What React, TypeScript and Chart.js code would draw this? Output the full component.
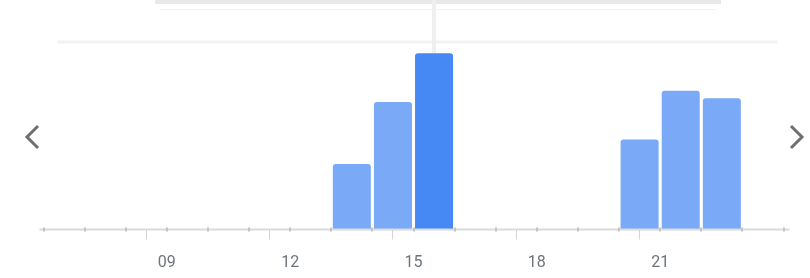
import React, { useEffect, useRef } from "react";
import { Chart, registerables } from "chart.js";

Chart.register(...registerables);

const hours = [6, 7, 8, 9, 10, 11, 12, 13, 14, 15, 16, 17, 18, 19, 20, 21, 22, 23];
const busyness = [0, 0, 0, 0, 0, 0, 0, 35, 68, 94, 0, 0, 0, 0, 48, 74, 70, 0];
const currentHour = 15;
const nowValue = 15.5;
const labelHours = [9, 12, 15, 18, 21];

const normalColor = "#7aa9f7";
const highlightColor = "#4688f4";

const decorPlugin = {
  id: "decor",
  beforeDatasetsDraw(chart: any) {
    const { ctx, chartArea, scales } = chart;
    const x = scales.x;
    const y = scales.y;
    ctx.save();
    const gy = y.getPixelForValue(100);
    ctx.fillStyle = "#f2f2f2";
    ctx.fillRect(chartArea.left + 14, gy - 1.5, chartArea.right - chartArea.left - 20, 3);
    const nx = x.getPixelForValue(nowValue);
    const idx = hours.indexOf(currentHour);
    const topY = y.getPixelForValue(busyness[idx]);
    ctx.fillStyle = "#efefef";
    ctx.fillRect(nx - 2, 0, 4, topY);
    ctx.restore();
  },
  afterDraw(chart: any) {
    const { ctx, chartArea, scales } = chart;
    const x = scales.x;
    ctx.save();
    ctx.fillStyle = "#dadada";
    ctx.fillRect(chartArea.left - 4, chartArea.bottom - 1, chartArea.right - chartArea.left + 10, 2);
    ctx.fillStyle = "#c4c4c4";
    for (let h = 6; h <= 24; h++) {
      const px = x.getPixelForValue(h);
      ctx.fillRect(Math.round(px) - 1, chartArea.bottom - 2, 2, 4);
    }
    ctx.restore();
  },
};

export default function App() {
  const ref = useRef<HTMLCanvasElement | null>(null);
  useEffect(() => {
    if (!ref.current) return;
    const chart = new Chart(ref.current, {
      type: "bar",
      data: {
        datasets: [
          {
            data: hours.map((h, i) => ({ x: h + 0.5, y: busyness[i] })),
            backgroundColor: hours.map((h) => (h === currentHour ? highlightColor : normalColor)),
            borderRadius: 3,
            barPercentage: 0.925,
            categoryPercentage: 1,
          },
        ],
      },
      options: {
        responsive: false,
        animation: false,
        maintainAspectRatio: false,
        layout: { padding: { left: 43.5, right: 26.5, top: 42, bottom: 0 } },
        plugins: { legend: { display: false }, tooltip: { enabled: false } },
        scales: {
          x: {
            type: "linear",
            min: 6,
            max: 24,
            offset: false,
            afterFit: (scale: any) => {
              scale.height = 48.5;
            },
            border: { display: false },
            grid: {
              drawOnChartArea: false,
              drawTicks: true,
              tickLength: 10,
              color: (c: any) =>
                c.tick && labelHours.includes(c.tick.value) ? "#d4d4d4" : "rgba(0,0,0,0)",
            },
            ticks: {
              stepSize: 1,
              autoSkip: false,
              maxRotation: 0,
              padding: 14,
              color: "#70757a",
              font: { family: "Roboto, Arial, sans-serif", size: 16 },
              callback: (v: any) =>
                labelHours.includes(Number(v)) ? String(v).padStart(2, "0") : "",
            },
          },
          y: { display: false, min: 0, max: 100 },
        },
      },
      plugins: [decorPlugin],
    });
    return () => chart.destroy();
  }, []);

  return (
    <div style={{ position: "fixed", left: 0, top: 0, width: 810, height: 278, background: "#fff" }}>
      <div style={{ position: "absolute", left: 155, top: 0, width: 566, height: 4, background: "#e8e8e8" }} />
      <div style={{ position: "absolute", left: 160, top: 9, width: 556, height: 1, background: "#f3f3f3" }} />
      <canvas ref={ref} width={810} height={278} style={{ position: "absolute", left: 0, top: 0 }} />
      <svg width={810} height={278} style={{ position: "absolute", left: 0, top: 0, pointerEvents: "none" }}>
        <polyline points="38,126 27,137 38,148" fill="none" stroke="#6f6f6f" strokeWidth={3} />
        <polyline points="791,126 802,137 791,148" fill="none" stroke="#6f6f6f" strokeWidth={3} />
      </svg>
    </div>
  );
}
